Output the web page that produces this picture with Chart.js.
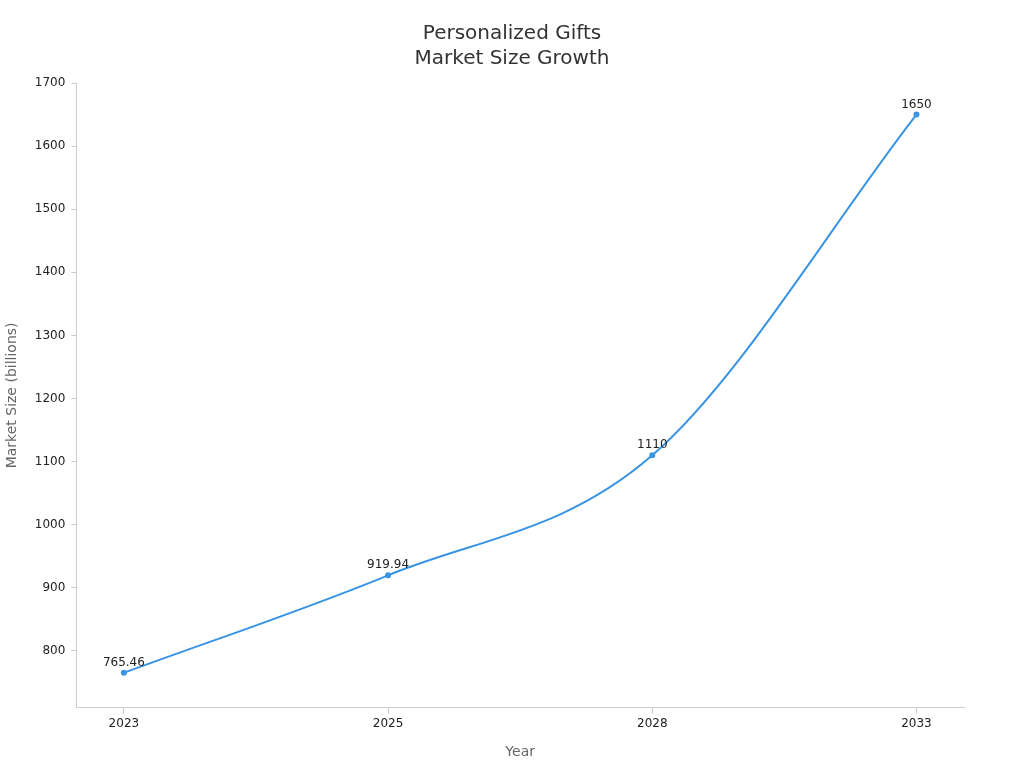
<!DOCTYPE html>
<html><head><meta charset="utf-8">
<script src="https://cdn.jsdelivr.net/npm/chart.js@4"></script>
<style>html,body{margin:0;background:#fff}#w{width:1024px;height:768px}</style>
</head><body><div id="w"><canvas id="c"></canvas></div>
<script>
const years = ["2023","2025","2028","2033"];
const marketSize = [765.46, 919.94, 1110, 1650];
const titleLines = ['Personalized Gifts','Market Size Growth'];
const pts = marketSize.map((v,i)=>({x:i,y:v}));
const labelPlugin = {id:'lbl',afterDatasetsDraw(ch){const ctx=ch.ctx;const m=ch.getDatasetMeta(0);ctx.save();ctx.font='12px "DejaVu Sans"';ctx.fillStyle='#222';ctx.textAlign='center';ctx.textBaseline='bottom';m.data.forEach((p,i)=>ctx.fillText(String(marketSize[i]),p.x,p.y-4));
ctx.font='20px "DejaVu Sans"';ctx.fillStyle='#333';ctx.textBaseline='middle';titleLines.forEach((t,i)=>ctx.fillText(t,ch.width/2,34+i*25));ctx.restore();}};
Chart.defaults.font.family='"DejaVu Sans"';
new Chart(document.getElementById('c'),{type:'line',
data:{datasets:[{data:pts,borderColor:'#3994e4',backgroundColor:'#3994e4',borderWidth:2,pointRadius:2,cubicInterpolationMode:'monotone'}]},
options:{responsive:true,maintainAspectRatio:false,animation:false,
layout:{padding:{left:0,right:60,top:83,bottom:3}},
plugins:{legend:{display:false},tooltip:{enabled:false}},
scales:{x:{type:'linear',min:-0.18,max:3.18,grid:{drawOnChartArea:false,tickColor:'#ccc',tickLength:6},border:{color:'#ccc'},ticks:{color:'#222',font:{size:12},callback:v=>years[v]},
afterBuildTicks(a){a.ticks=years.map((_,i)=>({value:i}));},
title:{display:true,text:'Year',color:'#666',font:{size:14},padding:{top:10,bottom:4}}},
y:{min:710,max:1700,grid:{drawOnChartArea:false,tickColor:'#ccc',tickLength:5},border:{color:'#ccc'},ticks:{color:'#222',font:{size:12},padding:6,callback:v=>String(v)},
afterBuildTicks(a){a.ticks=[800,900,1000,1100,1200,1300,1400,1500,1600,1700].map(v=>({value:v}));},
title:{display:true,text:'Market Size (billions)',color:'#666',font:{size:14},padding:{top:4,bottom:8}}}}},
plugins:[labelPlugin]});
</script></body></html>
